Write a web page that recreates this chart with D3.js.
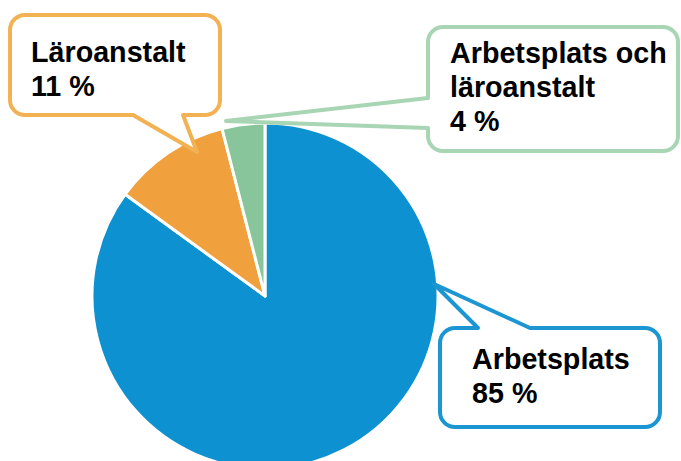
<!DOCTYPE html>
<html lang="sv">
<head>
<meta charset="UTF-8">
<title>Arbetsplats / läroanstalt</title>
<style>
  body { margin: 0; background: #fff; }
  .label { font-family: "Liberation Sans", Arial, sans-serif; font-weight: bold; font-size: 28.7px; fill: #000; }
</style>
</head>
<body>
<div id="chart"></div>
<script src="https://d3js.org/d3.v7.min.js"></script>
<script>
// data
const categories = ["Arbetsplats", "Läroanstalt", "Arbetsplats och läroanstalt"];
const values = [85, 11, 4];
const labelLines = [["Arbetsplats"], ["Läroanstalt"], ["Arbetsplats och", "läroanstalt"]];
const sliceColors = ["#0E91D0", "#F0A03D", "#88C59A"];
const boxColors = ["#1B96D2", "#F2B254", "#A8D5B4"];

const width = 681, height = 461;
const cx = 265, cy = 296, radius = 173;

const svg = d3.select("#chart").append("svg")
    .attr("width", width)
    .attr("height", height);

const data = categories.map((c, i) => ({ name: c, value: values[i], lines: labelLines[i], i: i }));

const pie = d3.pie().sort(null).value(d => d.value);
const arc = d3.arc().innerRadius(0).outerRadius(radius);

svg.append("g")
    .attr("transform", `translate(${cx},${cy})`)
    .selectAll("path")
    .data(pie(data))
    .enter()
    .append("path")
    .attr("d", arc)
    .attr("fill", d => sliceColors[d.data.i])
    .attr("stroke", "#fff")
    .attr("stroke-width", 3)
    .attr("stroke-linejoin", "round");

// callout boxes: rounded rect with a wedge pointing at the slice
function calloutPath(b) {
    const { x, y, w, h, r, side, p1, p2, tip } = b;
    let s = `M${x + r},${y}`;
    if (side === "top") s += `L${p1},${y}L${tip[0]},${tip[1]}L${p2},${y}`;
    s += `L${x + w - r},${y}A${r},${r} 0 0 1 ${x + w},${y + r}`;
    s += `L${x + w},${y + h - r}A${r},${r} 0 0 1 ${x + w - r},${y + h}`;
    if (side === "bottom") s += `L${p1},${y + h}L${tip[0]},${tip[1]}L${p2},${y + h}`;
    s += `L${x + r},${y + h}A${r},${r} 0 0 1 ${x},${y + h - r}`;
    if (side === "left") s += `L${x},${p1}L${tip[0]},${tip[1]}L${x},${p2}`;
    s += `L${x},${y + r}A${r},${r} 0 0 1 ${x + r},${y}Z`;
    return s;
}

const boxes = [
    { x: 440, y: 328, w: 220, h: 99, r: 15, side: "top", p1: 478, p2: 530, tip: [434, 284], tx: 472, ty: 369 },
    { x: 10, y: 15, w: 210, h: 100, r: 15, side: "bottom", p1: 183, p2: 133, tip: [197, 152], tx: 31, ty: 62 },
    { x: 428, y: 27, w: 250, h: 124, r: 15, side: "left", p1: 128, p2: 98, tip: [226, 121], tx: 450, ty: 63 }
];

const lineHeight = 34;

const callouts = svg.append("g")
    .selectAll("g")
    .data(data)
    .enter()
    .append("g");

callouts.append("path")
    .attr("d", d => calloutPath(boxes[d.i]))
    .attr("fill", "#fff")
    .attr("stroke", d => boxColors[d.i])
    .attr("stroke-width", 4)
    .attr("stroke-linejoin", "round");

callouts.each(function(d) {
    const b = boxes[d.i];
    const lines = d.lines.concat([`${d.value} %`]);
    d3.select(this).selectAll("text")
        .data(lines)
        .enter()
        .append("text")
        .attr("class", "label")
        .attr("x", b.tx)
        .attr("y", (t, k) => b.ty + k * lineHeight)
        .text(t => t);
});
</script>
</body>
</html>
